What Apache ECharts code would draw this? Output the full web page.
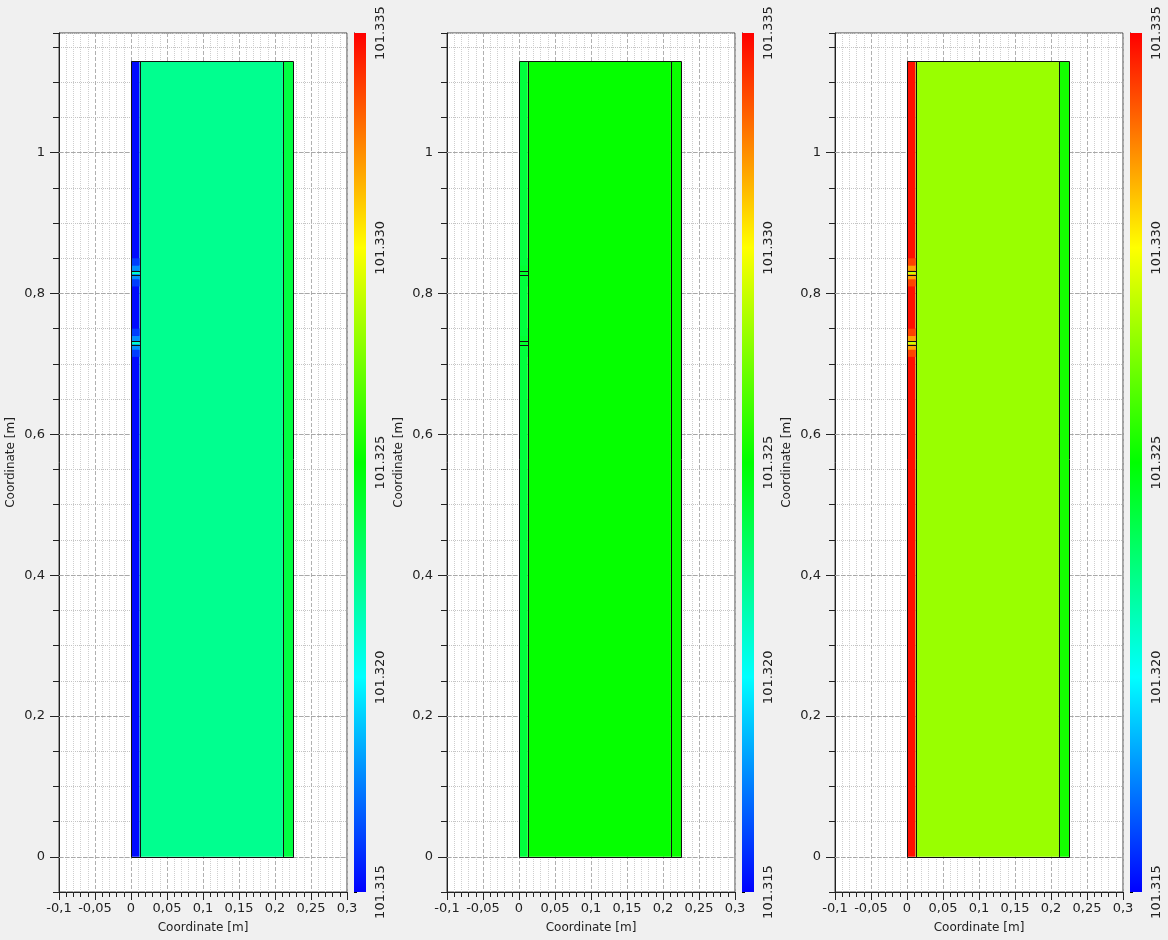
<!DOCTYPE html>
<html>
<head>
<meta charset="utf-8">
<script src="https://cdn.jsdelivr.net/npm/echarts@6/dist/echarts.min.js"></script>
<style>
html, body { margin: 0; background: #f0f0f0; }
#chart { width: 1168px; height: 940px; }
</style>
</head>
<body>
<div id="chart"></div>
<script>
// layer bounds in m
const layerX = [[0, 0.012], [0.012, 0.211], [0.211, 0.225]];
const layerTop = 1.13;
const slitY = [0.73, 0.83];
// pressure per layer, one array per panel
const layerP1 = [101.3152, 101.3222, 101.3237];
const layerP2 = [101.3238, 101.3251, 101.3252];
const layerP3 = [101.3347, 101.3280, 101.3254];
// pressure around the two slits in the left layer, per panel
const glowOuterP = [101.3162, 101.3238, 101.3337];
const glowInnerP = [101.3178, 101.3240, 101.3318];
const slitP = [101.3210, 101.3242, 101.3290];
const yLabelTicks = [0, 0.2, 0.4, 0.6, 0.8, 1];
const colorTicks = [101.315, 101.32, 101.325, 101.33, 101.335];
const pMin = 101.315, pMax = 101.335;

const layerP = [layerP1, layerP2, layerP3];
const jet = ['#0000ff', '#00ffff', '#00ff00', '#ffff00', '#ff0000'];
const comma = v => String(+(+v).toFixed(3)).replace('.', ',');

function fillRows(p) {
  const rows = layerX.map((b, i) => [b[0], b[1], 0, layerTop, layerP[p][i]]);
  const x0 = layerX[0][0], x1 = layerX[0][1];
  slitY.forEach(y => {
    rows.push([x0, x1, y - 0.02, y - 0.01, glowOuterP[p]]);
    rows.push([x0, x1, y - 0.01, y - 0.0025, glowInnerP[p]]);
    rows.push([x0, x1, y - 0.0025, y + 0.0025, slitP[p]]);
    rows.push([x0, x1, y + 0.0025, y + 0.01, glowInnerP[p]]);
    rows.push([x0, x1, y + 0.01, y + 0.02, glowOuterP[p]]);
  });
  return rows;
}
function outlineRows() {
  const rows = layerX.map(b => [b[0], b[1], 0, layerTop]);
  slitY.forEach(y => rows.push([layerX[0][0], layerX[0][1], y - 0.0025, y + 0.0025]));
  return rows;
}

function rectOf(api) {
  const a = api.coord([api.value(0), api.value(3)]);
  const b = api.coord([api.value(1), api.value(2)]);
  return { x: a[0], y: a[1], width: b[0] - a[0], height: b[1] - a[1] };
}

const labelFont = { fontFamily: 'DejaVu Sans', fontSize: 13, color: '#222' };
const grid = [], xAxis = [], yAxis = [], series = [], fillIdx = [];

for (let p = 0; p < 3; p++) {
  const off = 388 * p;
  grid.push({ left: 59 + off, top: 33, width: 288, height: 859, show: true,
    backgroundColor: '#fff', borderColor: '#444', borderWidth: 1 });
  grid.push({ left: 354 + off, top: 33, width: 12, height: 859 });

  xAxis.push({
    type: 'value', gridIndex: 2 * p, min: -0.1, max: 0.3, interval: 0.05,
    name: 'Coordinate [m]', nameLocation: 'middle', nameGap: 30,
    nameTextStyle: { fontFamily: 'DejaVu Sans', fontSize: 12, color: '#222' },
    axisLine: { show: true, onZero: false, lineStyle: { color: '#222' } },
    axisTick: { show: true, length: 8, lineStyle: { color: '#222' } },
    minorTick: { show: true, splitNumber: 5, length: 5, lineStyle: { color: '#222' } },
    axisLabel: Object.assign({ margin: 10, formatter: comma }, labelFont),
    splitLine: { show: true, lineStyle: { type: 'dashed', color: '#b0b0b0' } },
    minorSplitLine: { show: true, lineStyle: { type: 'dotted', color: '#cfcfcf' } }
  });
  xAxis.push({ type: 'value', gridIndex: 2 * p + 1, min: 0, max: 1, show: false });

  // y axis: ticks every 0.05, labels at 0.2 steps
  yAxis.push({
    type: 'value', gridIndex: 2 * p, min: -0.05, max: 1.17, interval: 0.05,
    name: 'Coordinate [m]', nameLocation: 'middle', nameGap: 42,
    nameTextStyle: { fontFamily: 'DejaVu Sans', fontSize: 12, color: '#222' },
    axisLine: { show: true, onZero: false, lineStyle: { color: '#222' } },
    axisTick: { show: true, length: 6, lineStyle: { color: '#222' } },
    axisLabel: Object.assign({ margin: 14, customValues: yLabelTicks, formatter: comma }, labelFont),
    splitLine: { show: true, lineStyle: { type: 'dotted', color: '#c4c4c4' } }
  });
  // colorbar axis
  yAxis.push({
    type: 'value', gridIndex: 2 * p + 1, min: pMin, max: pMax, interval: 0.001,
    position: 'right',
    axisLine: { show: true, lineStyle: { color: '#000' } },
    axisTick: { show: true, length: 3, lineStyle: { color: '#000' } },
    axisLabel: { customValues: colorTicks, rotate: 90, margin: 8, formatter: v => (+v).toFixed(3),
      fontFamily: 'DejaVu Sans', fontSize: 13, color: '#222' },
    splitLine: { show: false }
  });
}
// longer ticks at the labelled y values
for (let p = 0; p < 3; p++) {
  yAxis.push({
    type: 'value', gridIndex: 2 * p, min: -0.05, max: 1.17, position: 'left',
    axisLine: { show: false, onZero: false },
    axisTick: { show: true, length: 9, customValues: yLabelTicks, lineStyle: { color: '#222' } },
    axisLabel: { show: false },
    splitLine: { show: false }
  });
}

for (let p = 0; p < 3; p++) {
  fillIdx.push(series.length);
  series.push({
    type: 'custom', xAxisIndex: 2 * p, yAxisIndex: 2 * p, z: 2,
    encode: { x: [0, 1], y: [2, 3] },
    data: fillRows(p),
    renderItem: (params, api) => ({
      type: 'rect', shape: rectOf(api),
      style: { fill: api.visual('color'), stroke: null }
    }),
    markLine: {
      z: 1, silent: true, symbol: 'none', label: { show: false },
      lineStyle: { type: 'dashed', color: '#a8a8a8', width: 1 },
      data: yLabelTicks.map(v => ({ yAxis: v }))
    }
  });
  series.push({
    type: 'custom', xAxisIndex: 2 * p, yAxisIndex: 2 * p, z: 3,
    encode: { x: [0, 1], y: [2, 3] },
    data: outlineRows(),
    renderItem: (params, api) => {
      const r = rectOf(api);
      const x = Math.round(r.x) + 0.5, y = Math.round(r.y) + 0.5;
      return {
        type: 'rect',
        shape: { x: x, y: y, width: Math.round(r.width), height: Math.round(r.height) },
        style: { fill: null, stroke: '#111', lineWidth: 1 }
      };
    }
  });
  series.push({
    type: 'custom', xAxisIndex: 2 * p + 1, yAxisIndex: 2 * p + 1,
    data: [[pMin, pMax]],
    renderItem: (params, api) => {
      const a = api.coord([0, api.value(1)]);
      const b = api.coord([1, api.value(0)]);
      return {
        type: 'rect',
        shape: { x: a[0], y: a[1], width: b[0] - a[0], height: b[1] - a[1] },
        style: {
          fill: new echarts.graphic.LinearGradient(0, 0, 0, 1,
            jet.slice().reverse().map((c, i) => ({ offset: i / (jet.length - 1), color: c })))
        }
      };
    }
  });
}

const chart = echarts.init(document.getElementById('chart'));
chart.setOption({
  backgroundColor: '#f0f0f0',
  animation: false,
  grid: grid,
  xAxis: xAxis,
  yAxis: yAxis,
  visualMap: [{
    type: 'continuous', show: false, seriesIndex: fillIdx, dimension: 4,
    min: pMin, max: pMax, inRange: { color: jet }
  }],
  series: series
});
</script>
</body>
</html>
